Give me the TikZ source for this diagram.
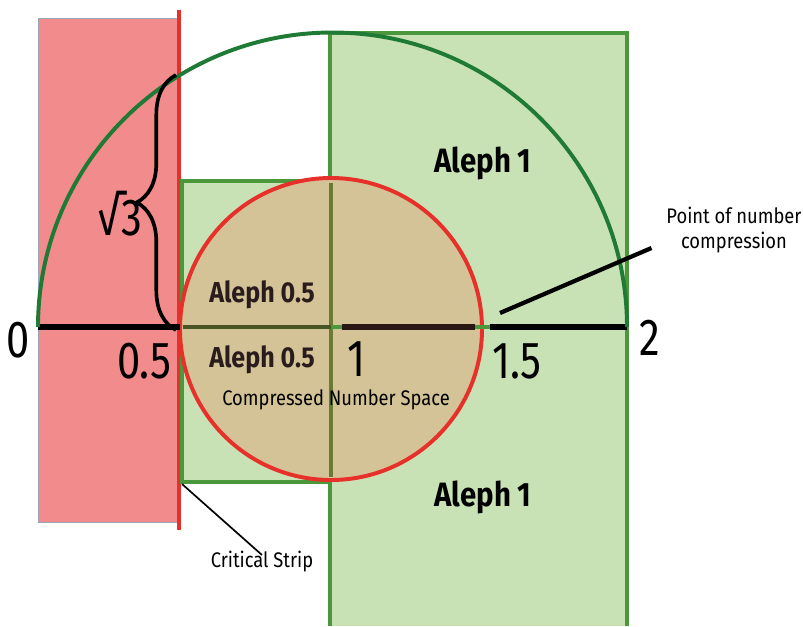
\documentclass[tikz,border=0pt]{standalone}
\usepackage{fontspec}
\setmainfont{Fira Sans}[FakeStretch=0.87]
\newfontfamily\numfont{Fira Sans}[FakeStretch=0.8]
\usepackage{tikz}
\usetikzlibrary{
    decorations.pathreplacing,
    positioning
}
\definecolor{stripfill}{HTML}{F28C8C}
\definecolor{stripedge}{HTML}{9AA6B8}
\definecolor{stripline}{HTML}{E8302A}
\definecolor{arcgreen}{HTML}{1E7A34}
\definecolor{boxgreen}{HTML}{4A973C}
\definecolor{boxfill}{HTML}{C9E2B5}
\definecolor{tanfill}{HTML}{D4C396}
\definecolor{olive}{HTML}{6A7A34}
\definecolor{darkbrown}{HTML}{2A1614}
\definecolor{alephtext}{HTML}{2A1C1C}
\tikzset{
    numlabel/.style={font=\numfont\fontsize{37}{40}\selectfont},
    alephbig/.style={font=\bfseries\fontsize{24}{27}\selectfont},
    alephsmall/.style={font=\bfseries\fontsize{20.5}{23}\selectfont, text=alephtext},
    note/.style={font=\fontsize{15}{18}\selectfont, align=center},
    greenbox/.style={draw=boxgreen, line width=2.6pt}
}

\begin{document}
\begin{tikzpicture}[x=0.025cm,y=0.025cm]
\useasboundingbox (0,0) rectangle (803,-626);
% critical strip
\fill[stripfill, draw=stripedge, line width=0.5pt] (38,-18) rectangle (180,-522);
\draw[stripline, line width=2.2pt] (179,-10) -- (179,-530);
% Aleph 1 box, runs off the bottom
\fill[boxfill] (330,-33) rectangle (627,-626);
\draw[greenbox] (330,-626) -- (330,-33) -- (627,-33) -- (627,-626);
% Aleph 0.5 square
\draw[greenbox, fill=boxfill] (182,-181) rectangle (330,-482);
% compressed number space
\draw[stripline, fill=tanfill, line width=2.8pt] (331,-329) circle[radius=151];
\draw[olive, line width=2.6pt] (331,-183) -- (331,-477);
% number line
\draw[line width=4pt] (38,-327) -- (180,-327);
\draw[olive!70!black, line width=2.6pt] (183,-327) -- (331,-327);
\draw[boxgreen, line width=2.6pt] (331,-327) -- (490,-327);
\draw[darkbrown, line width=4.5pt] (342,-327) -- (475,-327);
\draw[line width=4.5pt] (490,-327) -- (627,-327);
\draw[arcgreen, line width=2.8pt] (38,-327) arc[start angle=180, end angle=0, radius=294.5];
% height of the strip
\draw[line width=2.6pt, decorate, decoration={brace, amplitude=28}] (176,-330) -- (176,-75);
\node[numlabel] (root3) at (120,-214) {√3};

\node[numlabel] (n0) at (18,-340) {0};
\node[numlabel] (n05) at (144,-361) {0.5};
\node[numlabel] (n1) at (357,-359) {1};
\node[numlabel] (n15) at (517,-361) {1.5};
\node[numlabel] (n2) at (650,-338) {2};

\node[alephbig] (a1top) at (483,-163) {Aleph 1};
\node[alephbig] (a1bot) at (483,-497) {Aleph 1};
\node[alephsmall] (ahtop) at (262,-295) {Aleph 0.5};
\node[alephsmall] (ahbot) at (262,-360) {Aleph 0.5};
\node[note] (cns) at (336,-400) {Compressed Number Space};

\node[note] (pnc) at (734,-230) {Point of number\\compression};
\coordinate (cpt) at (500,-313);
\draw[line width=3pt] (cpt) -- ([shift={(-10,-18)}]pnc.west);

\node[note] (cs) at (262,-562) {Critical Strip};
\coordinate (sqcorner) at (182,-484);
\draw[line width=1.2pt] (sqcorner) -- ([yshift=-6]cs.north);
\end{tikzpicture}
\end{document}
